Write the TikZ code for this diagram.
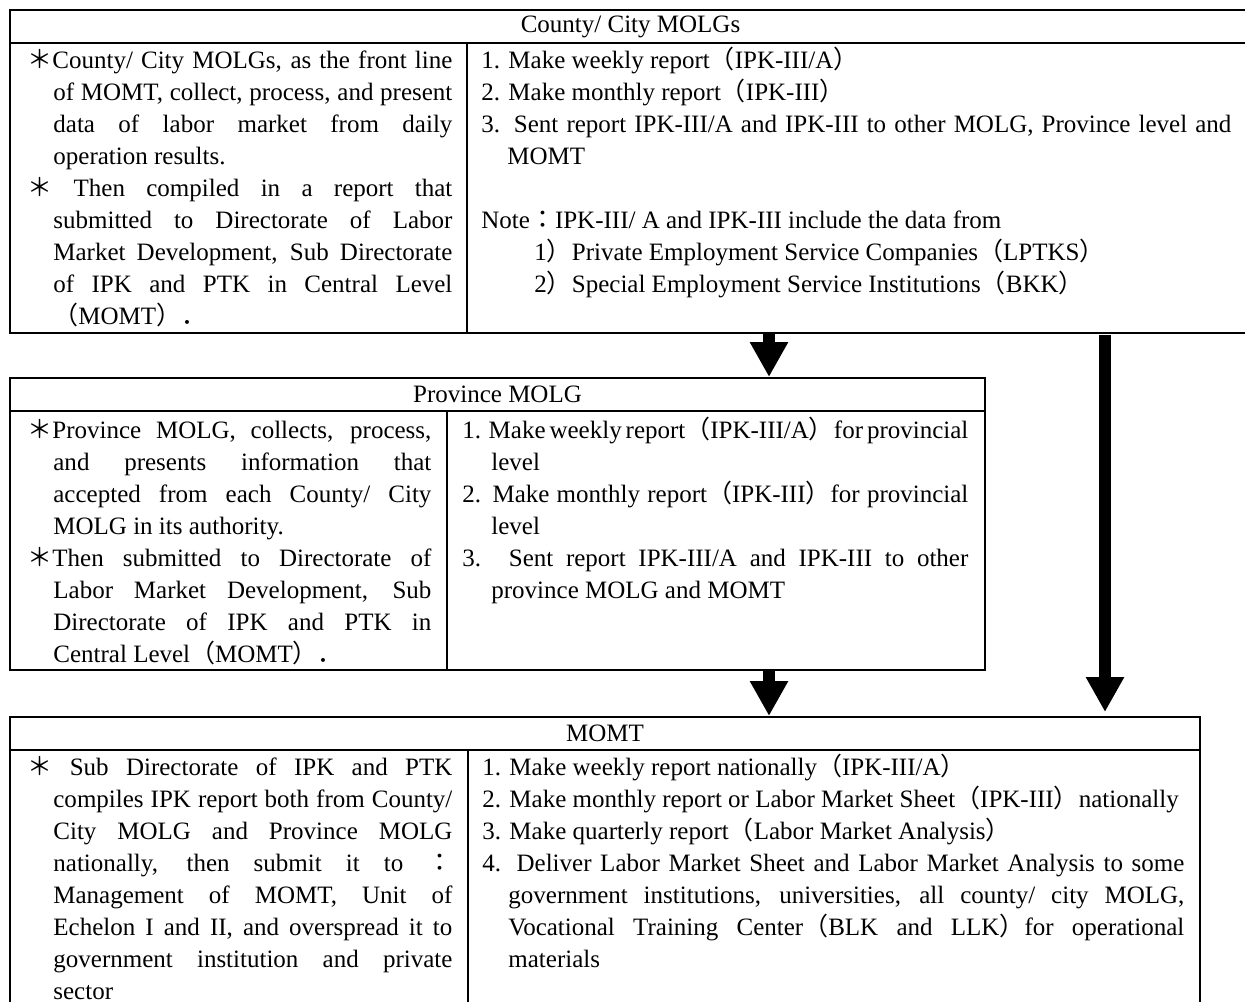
\documentclass[tikz,border=0pt]{standalone}
\usepackage{fontspec}
\setmainfont{Liberation Serif}
\newfontfamily\cjk{Noto Sans CJK JP}
\usetikzlibrary{arrows.meta}
\newcommand\fwlp{\smash{\cjk （}}
\newcommand\fwrp{\smash{\cjk ）}}
\newcommand\fwast{\smash{\cjk ＊}}
\newcommand\fwcol{\smash{\cjk ：}}
\newcommand\fwdot{\smash{\cjk ．}}
\newcommand\txtset{\hyphenpenalty=10000 \exhyphenpenalty=10000 \tolerance=10000 \parindent=0pt \lineskiplimit=-100pt \spaceskip=0.25em plus 0.6em minus 0.1em\relax}
\newcommand\hpar[2]{\par\noindent\hangindent=#1\hangafter=1\relax\rule{0pt}{12pt}#2\par}
\tikzset{
  frame/.style={draw, line width=1pt, inner sep=0pt, anchor=north west},
  head/.style={frame, font=\fontsize{12.5pt}{16pt}\selectfont},
  txt/.style={anchor=north west, inner sep=0pt, align=justify,
    font=\fontsize{12.5pt}{16pt}\selectfont},
  divider/.style={line width=1pt},
  bigarrow/.style={line width=6pt, -{Triangle[width=18pt,length=17.5pt]}},
}
\begin{document}
\begin{tikzpicture}[x=0.5pt,y=-0.5pt]
\useasboundingbox (0,0) rectangle (1245,1001);
\clip (0,0) rectangle (1245,1001);
% ---------- County / City MOLGs ----------
\node[head, minimum width=620.5pt, minimum height=16.5pt] (countyhead) at (9,9) {County/ City MOLGs};
\node[frame, minimum width=620.5pt, minimum height=145pt] (countybody) at (9,42) {};
\draw[divider] (467,42) -- (467,332);
\node[txt, text width=212.5pt] (countyleft) at (27,36.5) {\txtset
\hpar{13pt}{\fwast County/ City MOLGs, as the front line\linebreak of MOMT, collect, process, and present\linebreak data of labor market from daily\linebreak operation results.}%
\hpar{13pt}{\fwast{} Then compiled in a report that\linebreak submitted to Directorate of Labor\linebreak Market Development, Sub Directorate\linebreak of IPK and PTK in Central Level\linebreak \fwlp MOMT\fwrp\fwdot}};
\node[txt, text width=375pt] (countyright) at (481,36.5) {\txtset
\hpar{13pt}{1. Make weekly report\fwlp IPK-III/A\fwrp}%
\hpar{13pt}{2. Make monthly report\fwlp IPK-III\fwrp}%
\hpar{13pt}{3. Sent report IPK-III/A and IPK-III to other MOLG, Province level and\linebreak MOMT}%
\vskip16pt
\hpar{0pt}{Note\fwcol IPK-III/ A and IPK-III include the data from}%
\hpar{0pt}{\hspace*{26.5pt}1\fwrp Private Employment Service Companies\fwlp LPTKS\fwrp}%
\hpar{0pt}{\hspace*{26.5pt}2\fwrp Special Employment Service Institutions\fwlp BKK\fwrp}};
% ---------- Province MOLG ----------
\node[head, minimum width=487.5pt, minimum height=16.5pt] (provhead) at (9,377) {Province MOLG};
\node[frame, minimum width=487.5pt, minimum height=129.5pt] (provbody) at (9,410) {};
\draw[divider] (447,410) -- (447,669);
\node[txt, text width=202pt] (provleft) at (27,406.5) {\txtset
\hpar{13pt}{\fwast Province MOLG, collects, process,\linebreak and presents information that\linebreak accepted from each County/ City\linebreak MOLG in its authority.}%
\hpar{13pt}{\fwast Then submitted to Directorate of\linebreak Labor Market Development, Sub\linebreak Directorate of IPK and PTK in\linebreak Central Level\fwlp MOMT\fwrp\fwdot}};
\node[txt, text width=253pt] (provright) at (462,406.5) {\txtset
\hpar{14.5pt}{1. Make weekly report\fwlp IPK-III/A\fwrp for provincial\linebreak level}%
\hpar{14.5pt}{2. Make monthly report\fwlp IPK-III\fwrp for provincial\linebreak level}%
\hpar{14.5pt}{3. Sent report IPK-III/A and IPK-III to other\linebreak province MOLG and MOMT}};
% ---------- MOMT ----------
\node[head, minimum width=595pt, minimum height=16.5pt] (momthead) at (9,716) {MOMT};
\node[frame, minimum width=595pt, minimum height=200pt] (momtbody) at (9,749) {};
\draw[divider] (468,749) -- (468,1010);
\node[txt, text width=212.5pt] (momtleft) at (27,743.5) {\txtset
\hpar{13pt}{\fwast{} Sub Directorate of IPK and PTK\linebreak compiles IPK report both from County/\linebreak City MOLG and Province MOLG\linebreak nationally, then submit it to \fwcol\linebreak Management of MOMT, Unit of\linebreak Echelon I and II, and overspread it to\linebreak government institution and private\linebreak sector}};
\node[txt, text width=351pt] (momtright) at (482,743.5) {\txtset
\hpar{13pt}{1. Make weekly report nationally\fwlp IPK-III/A\fwrp}%
\hpar{13pt}{2. Make monthly report or Labor Market Sheet\fwlp IPK-III\fwrp nationally}%
\hpar{13pt}{3. Make quarterly report\fwlp Labor Market Analysis\fwrp}%
\hpar{13pt}{4. Deliver Labor Market Sheet and Labor Market Analysis to some\linebreak government institutions, universities, all county/ city MOLG,\linebreak Vocational Training Center\fwlp BLK and LLK\fwrp for operational\linebreak materials}};
% ---------- arrows ----------
\coordinate (a1) at (769,332);
\coordinate (a2) at (769,669);
\coordinate (a3s) at (1105,335);
\coordinate (a3e) at (1105,712);
\draw[bigarrow] (a1) -- (provhead.north -| a1);
\draw[bigarrow] (a2) -- (momthead.north -| a2);
\draw[bigarrow] (a3s) -- (a3e);
\end{tikzpicture}
\end{document}
